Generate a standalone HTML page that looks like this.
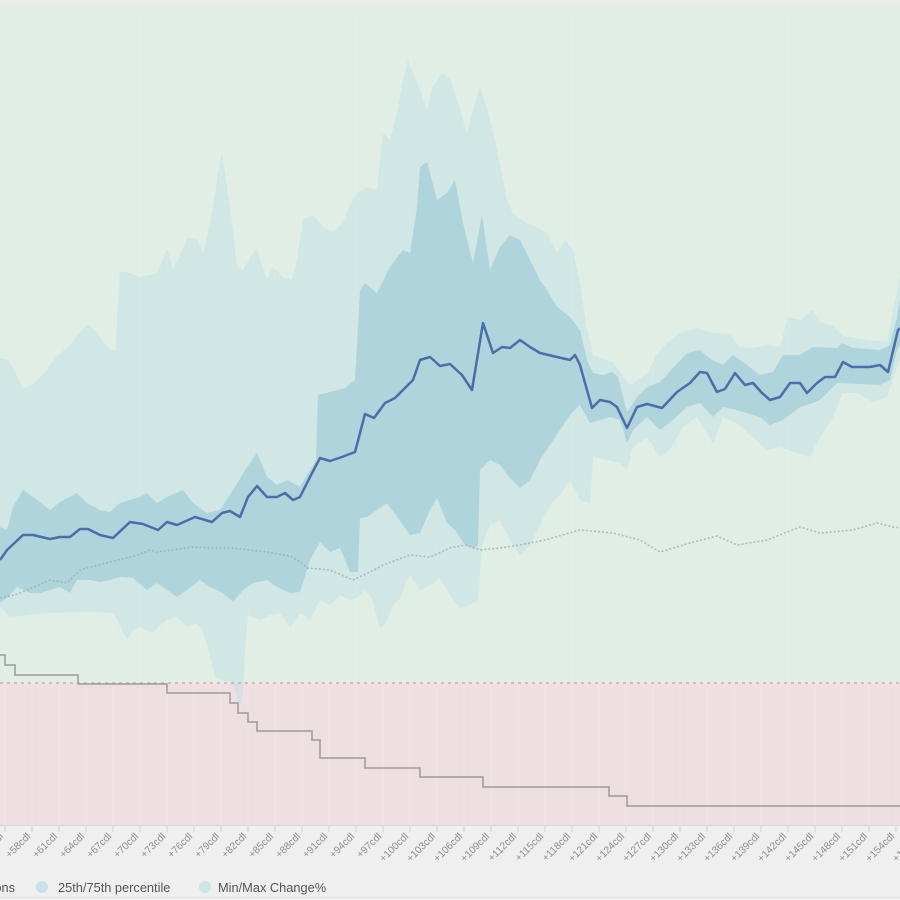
<!DOCTYPE html>
<html>
<head>
<meta charset="utf-8">
<style>
html,body{margin:0;padding:0;background:#efefef;}
svg{display:block;}
text{font-family:"Liberation Sans",sans-serif;}
</style>
</head>
<body>
<svg width="900" height="900" viewBox="0 0 900 900" xmlns="http://www.w3.org/2000/svg">
<defs>
<linearGradient id="topg" x1="0" y1="0" x2="0" y2="1">
<stop offset="0" stop-color="#ececec"/>
<stop offset="1" stop-color="#e0eee5"/>
</linearGradient>
</defs>
<rect x="0" y="0" width="900" height="900" fill="#efefef"/>
<rect x="0" y="0" width="900" height="683" fill="#e0eee5"/>
<rect x="0" y="0" width="900" height="12" fill="url(#topg)"/>
<rect x="0" y="0" width="900" height="5" fill="#ececec"/>
<rect x="0" y="683" width="900" height="142" fill="#eee0e2"/>

<g stroke="#ffffff" stroke-opacity="0.15" stroke-width="1">
<line x1="5" y1="10" x2="5" y2="825"/><line x1="32" y1="10" x2="32" y2="825"/><line x1="59" y1="10" x2="59" y2="825"/><line x1="86" y1="10" x2="86" y2="825"/><line x1="113" y1="10" x2="113" y2="825"/><line x1="140" y1="10" x2="140" y2="825"/><line x1="167" y1="10" x2="167" y2="825"/><line x1="194" y1="10" x2="194" y2="825"/><line x1="221" y1="10" x2="221" y2="825"/><line x1="248" y1="10" x2="248" y2="825"/><line x1="275" y1="10" x2="275" y2="825"/><line x1="302" y1="10" x2="302" y2="825"/><line x1="329" y1="10" x2="329" y2="825"/><line x1="356" y1="10" x2="356" y2="825"/><line x1="383" y1="10" x2="383" y2="825"/><line x1="410" y1="10" x2="410" y2="825"/><line x1="437" y1="10" x2="437" y2="825"/><line x1="464" y1="10" x2="464" y2="825"/><line x1="491" y1="10" x2="491" y2="825"/><line x1="518" y1="10" x2="518" y2="825"/><line x1="545" y1="10" x2="545" y2="825"/><line x1="572" y1="10" x2="572" y2="825"/><line x1="599" y1="10" x2="599" y2="825"/><line x1="626" y1="10" x2="626" y2="825"/><line x1="653" y1="10" x2="653" y2="825"/><line x1="680" y1="10" x2="680" y2="825"/><line x1="707" y1="10" x2="707" y2="825"/><line x1="734" y1="10" x2="734" y2="825"/><line x1="761" y1="10" x2="761" y2="825"/><line x1="788" y1="10" x2="788" y2="825"/><line x1="815" y1="10" x2="815" y2="825"/><line x1="842" y1="10" x2="842" y2="825"/><line x1="869" y1="10" x2="869" y2="825"/><line x1="896" y1="10" x2="896" y2="825"/>
</g>

<polygon fill="rgb(173,216,230)" fill-opacity="0.3" points="0,358 8,360 15,372 23,388 32,385 45,372 58,355 67,348 78,335 87,325 97,332 105,345 112,350 116,350 118,300 120,272 127,272 140,277 150,275 157,273 162,262 167,248 173,270 180,255 187,238 197,240 203,253 208,235 213,207 218,175 222,153 226,180 230,207 237,267 243,270 250,258 257,248 262,265 267,280 273,267 283,277 292,280 298,255 303,220 313,215 323,227 333,232 343,223 350,205 357,193 367,187 377,190 383,133 390,140 397,113 402,85 408,60 414,75 420,90 427,110 433,87 443,73 450,80 457,100 467,133 473,110 480,87 487,107 497,150 507,200 513,213 527,223 537,227 547,233 557,253 565,240 573,250 580,283 587,330 593,355 600,358 613,362 622,375 630,385 640,378 647,373 657,355 667,343 680,333 697,328 713,333 730,335 740,347 753,348 767,345 780,347 788,317 800,320 813,310 820,322 833,326 843,336 867,340 887,342 895,300 900,277 900,360 897,367 887,397 873,402 857,393 843,393 833,417 820,437 810,457 797,453 780,447 767,450 750,435 737,423 723,417 713,443 705,430 697,417 683,427 670,450 660,457 647,437 633,447 627,470 620,463 607,460 593,457 590,503 580,500 570,480 560,495 550,505 540,525 530,545 520,555 510,540 500,520 490,525 482,545 478,600 470,605 460,608 450,595 440,578 430,585 420,590 410,575 400,598 393,605 385,625 380,628 372,598 365,590 357,598 350,600 340,595 330,605 320,600 310,620 300,613 290,627 280,613 270,615 260,620 248,615 245,650 243,690 241,704 238,704 235,690 230,682 222,680 216,678 212,665 207,645 203,630 197,623 187,627 177,617 167,620 160,625 153,633 140,627 133,630 127,640 120,625 113,613 100,612 75,612 50,613 30,615 10,617 0,607"/>

<polygon fill="#b0d4dc" points="0,527 7,530 13,507 23,490 33,497 50,510 60,502 77,493 87,503 100,510 110,512 120,503 140,497 147,493 157,503 167,497 183,490 193,503 207,513 220,510 233,490 247,467 257,453 267,477 277,485 287,480 300,487 310,470 316,460 318,395 330,392 345,388 355,380 360,290 365,283 377,293 390,267 403,250 410,253 417,207 420,167 427,162 437,200 447,193 455,180 463,223 473,263 482,215 490,270 500,247 510,235 520,240 530,260 540,280 547,290 557,307 570,317 580,330 587,360 593,373 603,375 612,372 618,377 627,412 637,397 647,387 660,382 673,368 687,353 700,350 712,360 723,365 733,355 747,365 760,375 773,372 783,355 800,355 813,347 837,348 842,343 853,348 880,350 890,345 897,317 900,300 900,345 897,350 890,380 880,385 837,383 820,400 810,404 800,407 783,420 770,425 760,417 737,410 723,407 713,417 700,403 687,407 673,420 660,430 647,417 633,430 627,443 620,420 610,417 600,420 590,423 580,405 570,415 560,430 550,445 540,460 530,480 520,488 510,478 500,465 490,460 480,470 478,545 475,548 465,545 455,530 447,523 437,498 430,510 420,533 410,535 397,517 387,503 367,517 360,518 358,572 350,572 340,548 330,552 320,542 310,560 300,592 290,593 277,587 267,580 253,583 243,590 233,602 223,593 210,587 200,580 187,590 177,597 167,590 157,583 147,590 133,578 120,577 110,580 100,582 90,580 77,580 70,593 60,587 50,590 40,593 30,593 17,587 7,598 0,603"/>

<polyline fill="none" stroke="#9aa8ad" stroke-opacity="0.7" stroke-width="1.6" stroke-dasharray="2,2" points="0,598 15,595 27,590 50,580 67,583 80,570 110,562 135,556 150,550 157,552 193,547 210,548 233,548 267,552 290,556 300,562 307,568 330,570 353,580 370,572 383,565 410,555 430,557 450,548 465,545 480,550 500,548 520,545 545,540 580,530 613,533 640,540 660,552 690,543 717,536 737,545 767,540 800,527 820,533 853,530 877,523 893,527 900,528"/>

<polyline fill="none" stroke="#4b6ea9" stroke-width="2.5" stroke-linejoin="round" points="0,560 7,550 23,535 33,535 50,539 60,537 70,537 80,529 88,529 100,535 113,538 130,522 143,524 158,530 167,522 177,525 195,517 212,522 222,513 230,511 240,517 248,497 257,486 267,497 277,497 285,493 293,500 300,497 310,477 320,458 330,461 342,457 355,452 365,414 374,418 385,403 395,398 405,388 413,380 420,360 430,357 440,366 450,364 462,375 472,390 483,323 493,353 502,347 510,348 520,340 530,347 540,353 557,357 570,360 575,355 580,365 592,408 600,400 610,402 617,407 627,428 637,407 647,404 662,408 677,392 690,383 700,372 707,373 717,392 725,389 735,373 745,385 753,383 762,393 770,400 780,397 790,383 800,383 807,393 817,383 825,377 835,377 843,362 852,367 870,367 880,365 888,372 898,330 900,328"/>

<line x1="0" y1="683" x2="900" y2="683" stroke="#e3a3a8" stroke-width="1.6" stroke-dasharray="3,4"/>

<path fill="none" stroke="#9c9a9c" stroke-width="1.5" d="M0,655 H5 V665 H15 V675 H78 V684 H167 V693 H230 V703 H238 V713 H248 V722 H257 V731 H312 V740 H320 V758 H365 V768 H420 V777 H483 V787 H609 V796 H627 V806 H900"/>

<line x1="0" y1="825.5" x2="900" y2="825.5" stroke="#d6dae6" stroke-width="1"/>
<g stroke="#cfcfcf" stroke-width="1">
<line x1="5" y1="826" x2="5" y2="832"/><line x1="32" y1="826" x2="32" y2="832"/><line x1="59" y1="826" x2="59" y2="832"/><line x1="86" y1="826" x2="86" y2="832"/><line x1="113" y1="826" x2="113" y2="832"/><line x1="140" y1="826" x2="140" y2="832"/><line x1="167" y1="826" x2="167" y2="832"/><line x1="194" y1="826" x2="194" y2="832"/><line x1="221" y1="826" x2="221" y2="832"/><line x1="248" y1="826" x2="248" y2="832"/><line x1="275" y1="826" x2="275" y2="832"/><line x1="302" y1="826" x2="302" y2="832"/><line x1="329" y1="826" x2="329" y2="832"/><line x1="356" y1="826" x2="356" y2="832"/><line x1="383" y1="826" x2="383" y2="832"/><line x1="410" y1="826" x2="410" y2="832"/><line x1="437" y1="826" x2="437" y2="832"/><line x1="464" y1="826" x2="464" y2="832"/><line x1="491" y1="826" x2="491" y2="832"/><line x1="518" y1="826" x2="518" y2="832"/><line x1="545" y1="826" x2="545" y2="832"/><line x1="572" y1="826" x2="572" y2="832"/><line x1="599" y1="826" x2="599" y2="832"/><line x1="626" y1="826" x2="626" y2="832"/><line x1="653" y1="826" x2="653" y2="832"/><line x1="680" y1="826" x2="680" y2="832"/><line x1="707" y1="826" x2="707" y2="832"/><line x1="734" y1="826" x2="734" y2="832"/><line x1="761" y1="826" x2="761" y2="832"/><line x1="788" y1="826" x2="788" y2="832"/><line x1="815" y1="826" x2="815" y2="832"/><line x1="842" y1="826" x2="842" y2="832"/><line x1="869" y1="826" x2="869" y2="832"/><line x1="896" y1="826" x2="896" y2="832"/>
</g>

<g font-size="10.2" fill="#909090" text-anchor="end">
<text transform="translate(4,837) rotate(-45)">+55cdl</text>
<text transform="translate(31,837) rotate(-45)">+58cdl</text>
<text transform="translate(58,837) rotate(-45)">+61cdl</text>
<text transform="translate(85,837) rotate(-45)">+64cdl</text>
<text transform="translate(112,837) rotate(-45)">+67cdl</text>
<text transform="translate(139,837) rotate(-45)">+70cdl</text>
<text transform="translate(166,837) rotate(-45)">+73cdl</text>
<text transform="translate(193,837) rotate(-45)">+76cdl</text>
<text transform="translate(220,837) rotate(-45)">+79cdl</text>
<text transform="translate(247,837) rotate(-45)">+82cdl</text>
<text transform="translate(274,837) rotate(-45)">+85cdl</text>
<text transform="translate(301,837) rotate(-45)">+88cdl</text>
<text transform="translate(328,837) rotate(-45)">+91cdl</text>
<text transform="translate(355,837) rotate(-45)">+94cdl</text>
<text transform="translate(382,837) rotate(-45)">+97cdl</text>
<text transform="translate(409,837) rotate(-45)">+100cdl</text>
<text transform="translate(436,837) rotate(-45)">+103cdl</text>
<text transform="translate(463,837) rotate(-45)">+106cdl</text>
<text transform="translate(490,837) rotate(-45)">+109cdl</text>
<text transform="translate(517,837) rotate(-45)">+112cdl</text>
<text transform="translate(544,837) rotate(-45)">+115cdl</text>
<text transform="translate(571,837) rotate(-45)">+118cdl</text>
<text transform="translate(598,837) rotate(-45)">+121cdl</text>
<text transform="translate(625,837) rotate(-45)">+124cdl</text>
<text transform="translate(652,837) rotate(-45)">+127cdl</text>
<text transform="translate(679,837) rotate(-45)">+130cdl</text>
<text transform="translate(706,837) rotate(-45)">+133cdl</text>
<text transform="translate(733,837) rotate(-45)">+136cdl</text>
<text transform="translate(760,837) rotate(-45)">+139cdl</text>
<text transform="translate(787,837) rotate(-45)">+142cdl</text>
<text transform="translate(814,837) rotate(-45)">+145cdl</text>
<text transform="translate(841,837) rotate(-45)">+148cdl</text>
<text transform="translate(868,837) rotate(-45)">+151cdl</text>
<text transform="translate(895,837) rotate(-45)">+154cdl</text>
<text transform="translate(922,837) rotate(-45)">+157cdl</text>
</g>

<g font-size="12.8" fill="#555555">
<text x="15" y="892" text-anchor="end">Positions</text>
<circle cx="42" cy="887" r="6" fill="#c8e2ea"/>
<text x="58" y="892">25th/75th percentile</text>
<circle cx="205" cy="887" r="6" fill="#cfe5ea"/>
<text x="218" y="892">Min/Max Change%</text>
</g>
<line x1="0" y1="897.5" x2="900" y2="897.5" stroke="#e2e2e2" stroke-width="1"/>
</svg>
</body>
</html>
